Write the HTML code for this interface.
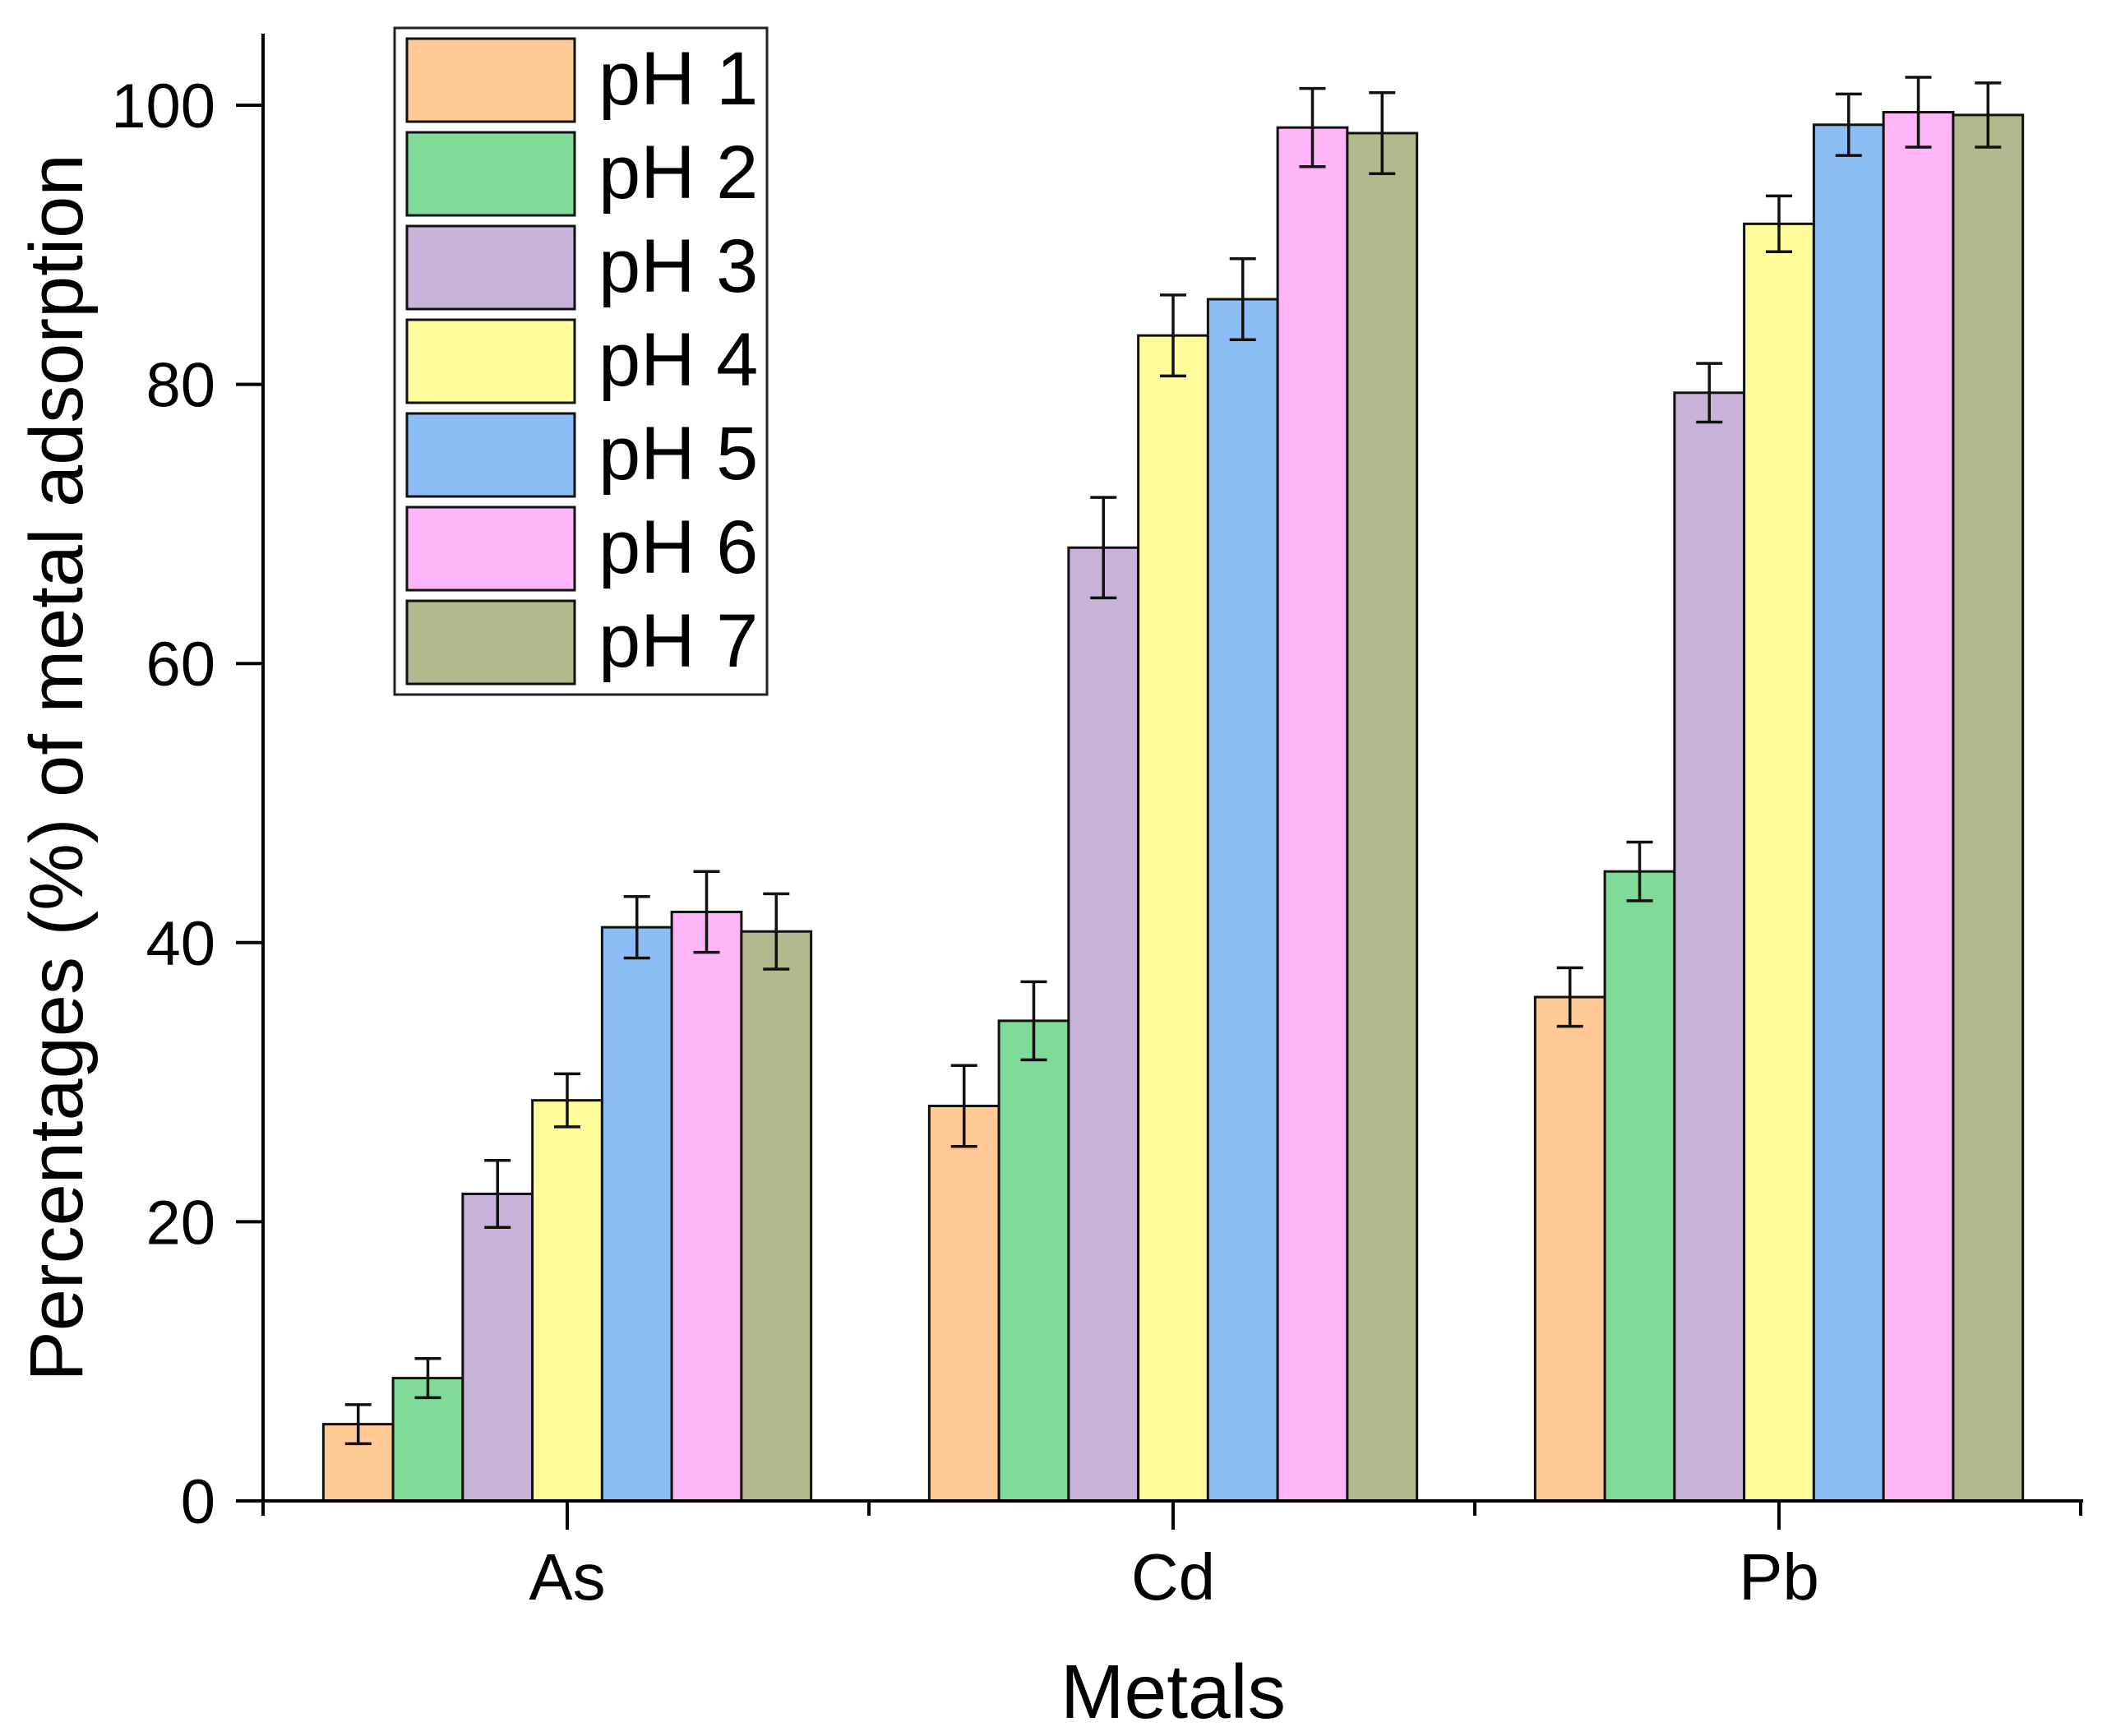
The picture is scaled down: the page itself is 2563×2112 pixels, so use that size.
<!DOCTYPE html>
<html><head><meta charset="utf-8"><style>
html,body{margin:0;padding:0;background:#fff;}
svg{display:block;font-family:"Liberation Sans",Arial,sans-serif;}
</style></head><body>
<svg id="chart" width="2563" height="2112" viewBox="0 0 2563 2112" xmlns="http://www.w3.org/2000/svg">
<g id="bars"></g>
<g id="axes"></g>
<g id="legend"></g>
<text x="0" y="0" transform="translate(100,934) rotate(-90)" text-anchor="middle" font-size="92" fill="#000">Percentages (%) of metal adsorption</text>
<text x="1427" y="2090" text-anchor="middle" font-size="93" fill="#000">Metals</text>
</svg>
<script>
const categories = ["As", "Cd", "Pb"];
const seriesNames = ["pH 1", "pH 2", "pH 3", "pH 4", "pH 5", "pH 6", "pH 7"];
const seriesColors = ["#FFC995", "#80DA9A", "#C9B3D8", "#FFFD9B", "#8DBDF5", "#FDB5F8", "#B2B98E"];
const valuesPH1 = [5.5, 28.3, 36.1];
const valuesPH2 = [8.8, 34.4, 45.1];
const valuesPH3 = [22.0, 68.3, 79.4];
const valuesPH4 = [28.7, 83.5, 91.5];
const valuesPH5 = [41.1, 86.1, 98.6];
const valuesPH6 = [42.2, 98.4, 99.5];
const valuesPH7 = [40.8, 98.0, 99.3];
const errPH1 = [1.4, 2.9, 2.1];
const errPH2 = [1.4, 2.8, 2.1];
const errPH3 = [2.4, 3.6, 2.1];
const errPH4 = [1.9, 2.9, 2.0];
const errPH5 = [2.2, 2.9, 2.2];
const errPH6 = [2.9, 2.8, 2.5];
const errPH7 = [2.7, 2.9, 2.3];
const yTicks = [0, 20, 40, 60, 80, 100];

const values = [valuesPH1, valuesPH2, valuesPH3, valuesPH4, valuesPH5, valuesPH6, valuesPH7];
const errs = [errPH1, errPH2, errPH3, errPH4, errPH5, errPH6, errPH7];
const NS = "http://www.w3.org/2000/svg";
const X0 = 320, XR = 2534, Y0 = 1826, Y100 = 128;
const catW = 737;
const yScale = v => Y0 - (Y0 - Y100) * v / 100;
const xCenter = i => 690 + i * catW;
const groupW = catW * 0.805;
const barW = groupW / seriesNames.length;
function mk(tag, attrs, parent) {
  const e = document.createElementNS(NS, tag);
  for (const k in attrs) e.setAttribute(k, attrs[k]);
  parent.appendChild(e);
  return e;
}
const gb = document.getElementById("bars");
categories.forEach((c, i) => {
  const left = xCenter(i) - groupW / 2;
  seriesNames.forEach((s, j) => {
    const v = values[j][i];
    const x = left + j * barW;
    const r = mk("rect", {x: x, y: yScale(v), width: barW, height: Y0 - yScale(v), fill: seriesColors[j], stroke: "#111", "stroke-width": 3}, gb);
    
    
    const cx = x + barW / 2, e = errs[j][i];
    const eb = mk("path", {d: `M${cx},${yScale(v + e)}V${yScale(v - e)}M${cx - 16},${yScale(v + e)}h32M${cx - 16},${yScale(v - e)}h32`, stroke: "#111", "stroke-width": 3.5, fill: "none"}, gb);
    
    
  });
});
const ga = document.getElementById("axes");
const yl = mk("line", {x1: X0, y1: 41, x2: X0, y2: Y0 + 2, stroke: "#000", "stroke-width": 4}, ga);


const xl = mk("line", {x1: X0 - 18, y1: Y0, x2: XR, y2: Y0, stroke: "#000", "stroke-width": 4}, ga);


yTicks.forEach(t => {
  const y = yScale(t);
  const tk = mk("line", {x1: X0 - 33, y1: y, x2: X0, y2: y, stroke: "#000", "stroke-width": 4}, ga);
  
  
  const tl = mk("text", {x: 262, y: y + 27, "text-anchor": "end", "font-size": 76, fill: "#000"}, ga);
  tl.textContent = t;
  
  
});
for (let k = 0; k <= categories.length; k++) {
  const x = X0 + k * catW;
  const mt = mk("line", {x1: x, y1: Y0, x2: x, y2: Y0 + 18, stroke: "#000", "stroke-width": 4}, ga);
  
  
}
categories.forEach((c, i) => {
  const x = xCenter(i);
  const tk = mk("line", {x1: x, y1: Y0, x2: x, y2: Y0 + 35, stroke: "#000", "stroke-width": 4}, ga);
  
  
  const tl = mk("text", {x: x, y: 1946, "text-anchor": "middle", "font-size": 80, fill: "#000"}, ga);
  tl.textContent = c;
  
  
});
const gl = document.getElementById("legend");
const lb = mk("rect", {x: 480, y: 34, width: 453, height: 811, fill: "#fff", stroke: "#222", "stroke-width": 3}, gl);


seriesNames.forEach((s, j) => {
  const y = 47 + j * 114;
  const sw = mk("rect", {x: 495, y: y, width: 204, height: 101, fill: seriesColors[j], stroke: "#111", "stroke-width": 3}, gl);
  
  
  const t = mk("text", {x: 728, y: y + 80, "font-size": 92, fill: "#000"}, gl);
  t.textContent = s;
  
  
});
</script>
</body></html>
